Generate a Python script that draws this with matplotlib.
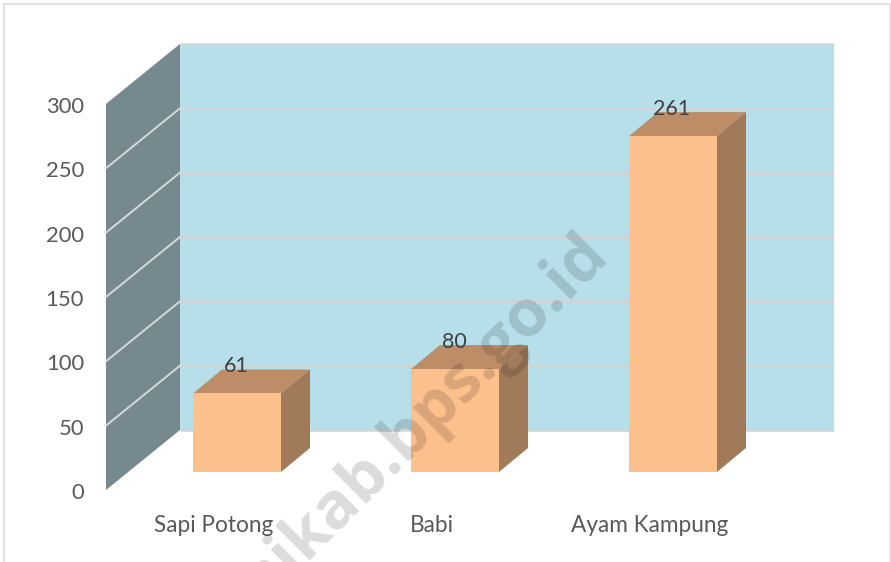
import matplotlib.pyplot as plt
from matplotlib.patches import Polygon, Rectangle

categories = ["Sapi Potong", "Babi", "Ayam Kampung"]
values = [61, 80, 261]
axis_ticks = [0, 50, 100, 150, 200, 250, 300]

# pixel layout of the fake 3D box
PX_PER_UNIT = 1.287
BASE_PX = 472
BAR_CENTERS = [237, 455, 673]
BAR_W = 88
BAR_DX = 29
BAR_DY = 24 / PX_PER_UNIT
WALL_LEFT = 106
WALL_BACK = 180
WALL_RIGHT = 834
FRONT_ZERO = -18 / PX_PER_UNIT
WALL_DY = 60 / PX_PER_UNIT

plt.rcParams['font.family'] = ['Lato', 'DejaVu Sans']

fig = plt.figure(figsize=(8.91, 5.62), dpi=100)
ax = fig.add_axes([0, 0, 1, 1])
ax.set_xlim(0, 891)
ax.set_ylim((BASE_PX - 562) / PX_PER_UNIT, BASE_PX / PX_PER_UNIT)
ax.axis('off')

# outer frame
ax.add_patch(Rectangle((3.5, (BASE_PX - 575) / PX_PER_UNIT), 886, (575 - 4) / PX_PER_UNIT,
                       facecolor='white', edgecolor='#e2e2e2', linewidth=1.5))

# walls
top = axis_ticks[-1]
ax.add_patch(Polygon([(WALL_BACK, FRONT_ZERO + WALL_DY), (WALL_RIGHT, FRONT_ZERO + WALL_DY),
                      (WALL_RIGHT, FRONT_ZERO + WALL_DY + top), (WALL_BACK, FRONT_ZERO + WALL_DY + top)],
                     facecolor='#b7dfe9', edgecolor='none', zorder=1))
ax.add_patch(Polygon([(WALL_LEFT, FRONT_ZERO), (WALL_BACK, FRONT_ZERO + WALL_DY),
                      (WALL_BACK, FRONT_ZERO + WALL_DY + top), (WALL_LEFT, FRONT_ZERO + top)],
                     facecolor='#75898f', edgecolor='none', zorder=1))

# gridlines run across both walls
for t in axis_ticks:
    y_front = FRONT_ZERO + t
    y_back = y_front + WALL_DY
    ax.plot([WALL_BACK, WALL_RIGHT], [y_back, y_back], color='#d2d4d6', lw=1.8, zorder=2,
            solid_capstyle='butt')
    if 0 < t < top:
        ax.plot([WALL_LEFT, WALL_BACK], [y_front, y_back], color='#d6d9da', lw=1.4, zorder=2)
    ax.text(84, y_front - 3 / PX_PER_UNIT, str(t), ha='right', va='center', fontsize=15.8,
            color='#595959', zorder=6)

# bars: front face plus the two faces that fake the depth
x_left = [c - BAR_W / 2 for c in BAR_CENTERS]
ax.bar(BAR_CENTERS, values, width=BAR_W, color='#fcc08d', zorder=4)
for x, v in zip(x_left, values):
    x_r = x + BAR_W
    ax.add_patch(Polygon([(x, v), (x_r, v), (x_r + BAR_DX, v + BAR_DY), (x + BAR_DX, v + BAR_DY)],
                         facecolor='#bd8d68', edgecolor='none', zorder=3))
    ax.add_patch(Polygon([(x_r, 0), (x_r + BAR_DX, BAR_DY), (x_r + BAR_DX, v + BAR_DY), (x_r, v)],
                         facecolor='#a07a59', edgecolor='none', zorder=3))

# data labels and categories
for c, v in zip(BAR_CENTERS, values):
    ax.text(c - 1, v + 27 / PX_PER_UNIT, str(v), ha='center', va='center', fontsize=15.5,
            color='#404040', zorder=6)
for c, name in zip(BAR_CENTERS, categories):
    ax.text(c - 23, -54 / PX_PER_UNIT, name, ha='center', va='center',
            fontsize=16.3, color='#595959', zorder=6)

# watermark, runs off the bottom edge like the original
ax.text(417, 36.5, "mikab.bps.go.id", rotation=45, rotation_mode='anchor', ha='center', va='center',
        fontsize=47, fontweight='bold', color='black', alpha=0.14, zorder=7, clip_on=True,
        family=['Open Sans', 'DejaVu Sans'])

fig.savefig('out.png', dpi=100)
